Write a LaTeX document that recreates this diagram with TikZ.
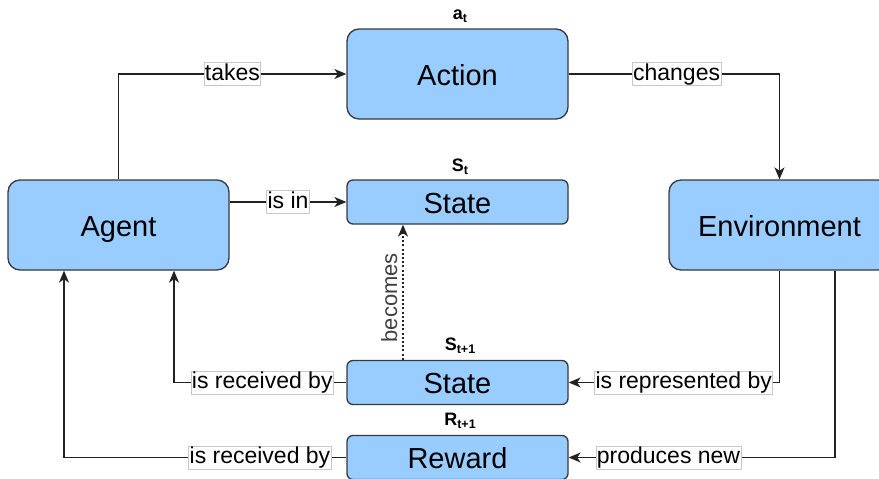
\documentclass[tikz,border=0pt]{standalone}
\usepackage{fontspec}
\setmainfont{Liberation Sans}
\usetikzlibrary{arrows.meta}
\definecolor{boxfill}{HTML}{99CCFF}
\definecolor{boxline}{HTML}{36393D}
\definecolor{wire}{HTML}{222222}
\definecolor{lblline}{HTML}{C8C8C8}
\tikzset{
  box/.style={draw=boxline, fill=boxfill, line width=1.3pt, minimum width=221pt,
    font=\fontsize{29}{33}\selectfont, text=black, inner sep=0pt,
    text height=22pt, text depth=0pt},
  bigbox/.style={box, minimum height=90pt, rounded corners=12pt},
  slimbox/.style={box, minimum height=44pt, rounded corners=6pt},
  wirestyle/.style={draw=wire, line width=1.3pt},
  arr/.style={wirestyle, -{Stealth[length=12pt, width=10pt, inset=3.5pt]}},
  lbl/.style={draw=lblline, fill=white, line width=0.7pt, inner sep=0.8pt,
    font=\fontsize{23}{25}\selectfont, text=black,
    text height=16.8pt, text depth=4.8pt},
  tag/.style={font=\bfseries\fontsize{18}{20}\selectfont, text=black, inner sep=0pt},
}
\newcommand{\tagsub}[2]{#1\raisebox{-0.3ex}{\fontsize{12.5}{14}\selectfont #2}}
\begin{document}
\begin{tikzpicture}[x=1pt, y=-1pt]
  \clip (0,0) rectangle (879,479);
  \fill[white] (0,0) rectangle (879,479);

  % boxes
  \node[bigbox]  (agent)  at (118.5,225)   {Agent};
  \node[bigbox]  (action) at (457.5,74)    {Action};
  \node[slimbox] (state)  at (457.5,202)   {State};
  \node[bigbox]  (env)    at (779.5,225)   {Environment};
  \node[slimbox] (nstate) at (457.5,382.5) {State};
  \node[slimbox] (reward) at (457.5,457.5) {Reward};

  % variable names above the boxes
  \node[tag] (tagA)  at (460,16)  {\tagsub{a}{t}};
  \node[tag] (tagS)  at (460,167) {\tagsub{S}{t}};
  \node[tag] (tagS1) at (460,346) {\tagsub{S}{t+1}};
  \node[tag] (tagR1) at (460,421) {\tagsub{R}{t+1}};

  % connectors
  \draw[arr] (agent.north) |- node[lbl, pos=0.75] {takes} (action.west);
  \draw[arr] (action.east) -| node[lbl, pos=0.256] {changes} (env.north);
  \draw[arr] (agent.east |- state.west) -- node[lbl] {is in} (state.west);
  \draw[arr, dash pattern=on 2pt off 2.2pt]
    ([xshift=-54.5pt]nstate.north) -- node[pos=0.46, rotate=90, anchor=south,
      inner sep=5pt, font=\fontsize{22}{24}\selectfont, text=black!75] {becomes}
    ([xshift=-54.5pt]state.south);
  \draw[arr] (env.south) |- node[lbl, pos=0.727] {is represented by} (nstate.east);
  \draw[arr] ([xshift=55.5pt]env.south) |- node[lbl, pos=0.8125] {produces new} (reward.east);
  \draw[arr] (nstate.west) -| node[lbl, pos=0.244] {is received by} ([xshift=55.5pt]agent.south);
  \draw[arr] (reward.west) -| node[lbl, pos=0.153] {is received by} ([xshift=-54.5pt]agent.south);
\end{tikzpicture}
\end{document}
